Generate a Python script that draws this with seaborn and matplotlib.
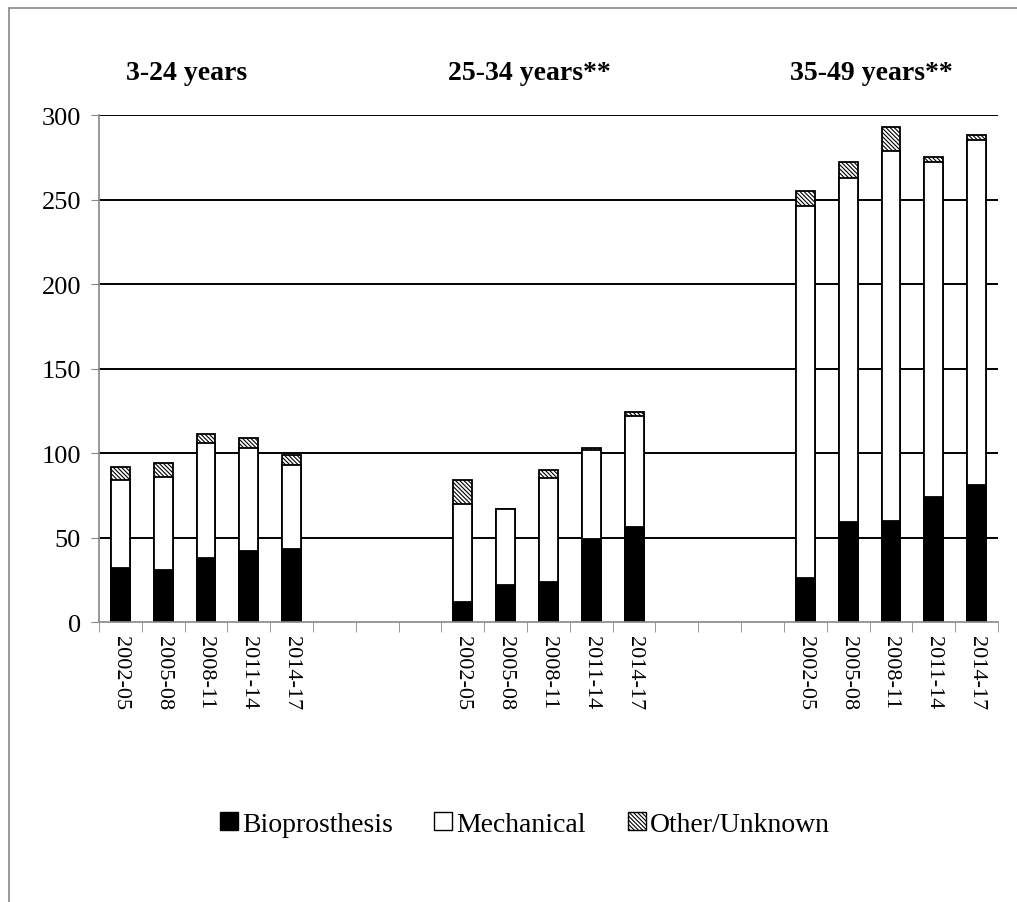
import numpy as np
import pandas as pd
import matplotlib
matplotlib.use('Agg')
import matplotlib.pyplot as plt
from matplotlib.patches import Patch
from matplotlib.lines import Line2D
import seaborn as sns

GROUPS = ['3-24 years', '25-34 years**', '35-49 years**']
PERIODS = ['2002-05', '2005-08', '2008-11', '2011-14', '2014-17']

# values, one list per group
BIO = [[32, 31, 38, 42, 43],
       [12, 22, 24, 49, 56],
       [26, 59, 60, 74, 81]]
MECH = [[52, 55, 68, 61, 50],
        [58, 45, 61, 53, 66],
        [220, 204, 219, 198, 204]]
OTHER = [[8, 8, 5, 6, 6],
         [14, 0, 5, 1, 2],
         [9, 9, 14, 3, 3]]

HATCH = '\\' * 8

# category order: five periods per group, three empty slots in between
order = []
ticklabels = []
rows = []
for g, grp in enumerate(GROUPS):
    if g > 0:
        for k in range(3):
            order.append(f'gap{g}{k}')
            ticklabels.append('')
    for i, p in enumerate(PERIODS):
        key = f'{grp}|{p}'
        order.append(key)
        ticklabels.append(p)
        b, m, o = BIO[g][i], MECH[g][i], OTHER[g][i]
        rows.append({'key': key, 'bio': b, 'bio_mech': b + m, 'total': b + m + o})
df = pd.DataFrame(rows)

sns.set_style('white')
plt.rcParams['font.family'] = ['Liberation Serif', 'DejaVu Serif']
plt.rcParams['hatch.linewidth'] = 0.8
plt.rcParams['text.color'] = 'black'
plt.rcParams['xtick.labelcolor'] = 'black'
plt.rcParams['ytick.labelcolor'] = 'black'

fig = plt.figure(figsize=(10.17, 9.03), dpi=100)
ax = fig.add_axes([0.0973, 0.310, 0.884, 0.5615])

# stacked look: draw totals first, then cover with the lower layers
bw = 0.44
sns.barplot(data=df, x='key', y='total', order=order, ax=ax, color='white',
            width=bw, edgecolor='black', linewidth=1.3, hatch=HATCH)
sns.barplot(data=df, x='key', y='bio_mech', order=order, ax=ax, color='white',
            width=bw, edgecolor='black', linewidth=1.3)
sns.barplot(data=df, x='key', y='bio', order=order, ax=ax, color='black',
            width=bw, edgecolor='black', linewidth=1.3)

ax.set_xlim(-0.5, len(order) - 0.5)
ax.set_ylim(0, 300)
ax.set_xlabel('')
ax.set_ylabel('')

# horizontal gridlines in black
for yv in range(50, 301, 50):
    ax.axhline(yv, color='black', lw=1.4, zorder=0)

ax.set_yticks(range(0, 301, 50))
ax.tick_params(axis='y', labelsize=19, length=6, color='#888888', direction='out',
               left=True, pad=7)
ax.set_xticks(range(len(order)))
ax.set_xticklabels(ticklabels, rotation=-90, fontsize=16)
ax.tick_params(axis='x', length=0, pad=9)
ax.set_xticks(np.arange(-0.5, len(order), 1.0), minor=True)
ax.tick_params(axis='x', which='minor', length=7, color='#888888', direction='out',
               bottom=True)

for side in ['top', 'right']:
    ax.spines[side].set_visible(False)
for side in ['left', 'bottom']:
    ax.spines[side].set_color('#888888')
    ax.spines[side].set_linewidth(1.2)

# group titles
for g, grp in enumerate(GROUPS):
    xc = order.index(f'{grp}|{PERIODS[2]}') - 0.45
    ax.text(xc, 325, grp, ha='center', va='center', fontsize=20,
            fontweight='bold', clip_on=False)

handles = [Patch(facecolor='black', edgecolor='black', label='Bioprosthesis'),
           Patch(facecolor='white', edgecolor='black', label='Mechanical'),
           Patch(facecolor='white', edgecolor='black', hatch=HATCH,
                 label='Other/Unknown')]
fig.legend(handles=handles, loc='center', bbox_to_anchor=(0.516, 0.086),
           ncol=3, frameon=False, fontsize=20, handlelength=0.65,
           handleheight=0.65, handletextpad=0.15, columnspacing=1.5)

# outer frame of the original figure
fig.add_artist(Line2D([9 / 1017, 9 / 1017], [0, 1 - 9 / 903], transform=fig.transFigure,
                      color='#888888', lw=1.2))
fig.add_artist(Line2D([9 / 1017, 1], [1 - 9 / 903, 1 - 9 / 903], transform=fig.transFigure,
                      color='#888888', lw=1.2))

fig.savefig('out.png', dpi=100)
